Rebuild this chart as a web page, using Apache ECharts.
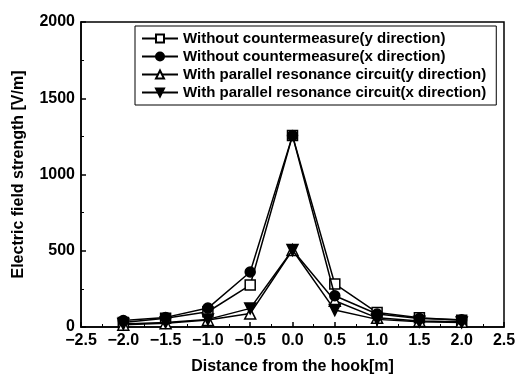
<!DOCTYPE html>
<html>
<head>
<meta charset="utf-8">
<script src="https://cdn.jsdelivr.net/npm/echarts@6/dist/echarts.min.js"></script>
<style>
  html, body { margin: 0; padding: 0; background: #fff; }
  #chart { width: 520px; height: 383px; }
</style>
</head>
<body>
<div id="chart"></div>
<script>
// distance from the hook [m]
const distances = [-2.0, -1.5, -1.0, -0.5, 0.0, 0.5, 1.0, 1.5, 2.0];

// electric field strength [V/m]
const withoutY = [30, 58, 100, 275, 1255, 282, 95, 60, 45];
const withoutX = [42, 63, 124, 361, 1255, 205, 85, 55, 48];
const parallelY = [15, 25, 46, 88, 505, 172, 60, 40, 35];
const parallelX = [20, 30, 50, 122, 505, 111, 50, 35, 30];

const seriesNames = [
  'Without countermeasure(y direction)',
  'Without countermeasure(x direction)',
  'With parallel resonance circuit(y direction)',
  'With parallel resonance circuit(x direction)'
];

const font = 'Liberation Sans, Arial, sans-serif';
const pair = vals => distances.map((d, i) => [d, vals[i]]);

const makeSeries = (name, vals, symbol, open, rotate) => ({
  name: name,
  type: 'line',
  data: pair(vals),
  symbol: symbol,
  symbolSize: symbol === 'triangle' ? 11 : 10,
  symbolRotate: rotate || 0,
  showSymbol: true,
  lineStyle: { color: '#000', width: 1.5 },
  itemStyle: {
    color: open ? '#fff' : '#000',
    borderColor: '#000',
    borderWidth: 1.5
  },
  // filled markers sit on top of the open ones, as in the original
  z: open ? 2 : 3
});

const chart = echarts.init(document.getElementById('chart'));

chart.setOption({
  backgroundColor: '#fff',
  animation: false,
  grid: {
    left: 81, right: 16, top: 22, bottom: 56,
    show: true, borderColor: '#000', borderWidth: 1.5
  },
  legend: {
    orient: 'vertical',
    left: 135, top: 26,
    itemWidth: 36, itemHeight: 10, itemGap: 3,
    padding: [5, 10, 5, 6],
    borderColor: '#000', borderWidth: 1,
    backgroundColor: '#fff',
    textStyle: { fontFamily: font, fontWeight: 'bold', fontSize: 15, color: '#000' },
    data: seriesNames
  },
  xAxis: {
    type: 'value',
    min: -2.5, max: 2.5, interval: 0.5,
    name: 'Distance from the hook[m]',
    nameLocation: 'middle', nameGap: 32,
    nameTextStyle: { fontFamily: font, fontWeight: 'bold', fontSize: 16, color: '#000' },
    axisLine: { onZero: false, lineStyle: { color: '#000', width: 1.5 } },
    axisTick: { inside: true, length: 5, lineStyle: { color: '#000', width: 1.5 } },
    minorTick: { show: true, splitNumber: 2, length: 3, lineStyle: { color: '#000' } },
    splitLine: { show: false },
    axisLabel: {
      fontFamily: font, fontWeight: 'bold', fontSize: 16, color: '#000', margin: 6,
      formatter: v => v.toFixed(1).replace('-', '\u2212')
    }
  },
  yAxis: {
    type: 'value',
    min: 0, max: 2000, interval: 500,
    name: 'Electric field strength [V/m]',
    nameLocation: 'middle', nameGap: 54,
    nameTextStyle: { fontFamily: font, fontWeight: 'bold', fontSize: 16, color: '#000' },
    axisLine: { show: true, onZero: false, lineStyle: { color: '#000', width: 1.5 } },
    axisTick: { show: true, inside: true, length: 5, lineStyle: { color: '#000', width: 1.5 } },
    minorTick: { show: true, splitNumber: 2, length: 3, lineStyle: { color: '#000' } },
    splitLine: { show: false },
    axisLabel: {
      fontFamily: font, fontWeight: 'bold', fontSize: 16, color: '#000', margin: 6,
      formatter: v => String(v)
    }
  },
  series: [
    makeSeries(seriesNames[0], withoutY, 'rect', true),
    makeSeries(seriesNames[1], withoutX, 'circle', false),
    makeSeries(seriesNames[2], parallelY, 'triangle', true),
    makeSeries(seriesNames[3], parallelX, 'triangle', false, 180)
  ]
});
</script>
</body>
</html>
